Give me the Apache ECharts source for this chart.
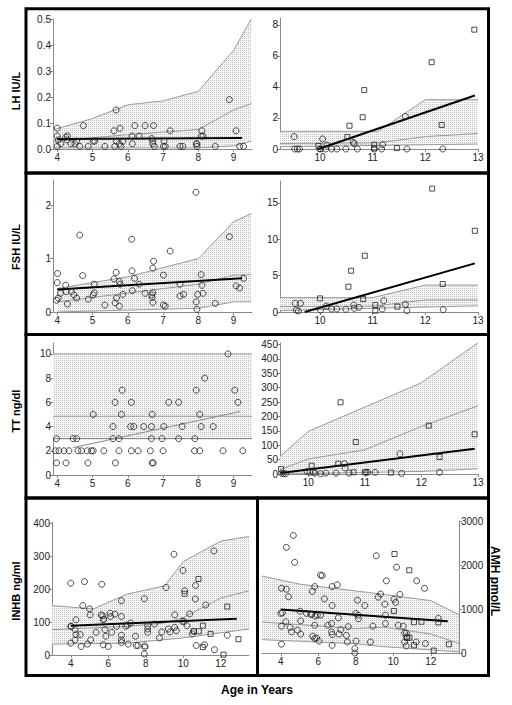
<!DOCTYPE html>
<html><head><meta charset="utf-8">
<script src="https://cdn.jsdelivr.net/npm/echarts@6/dist/echarts.min.js"></script>
<style>html,body{margin:0;padding:0;background:#fff}#c{width:512px;height:705px}</style>
</head><body><div id="c"></div>
<script>
// ---------- DATA ----------
// LH, younger (ages 4-9)
const lhYoungCircles = [[4.0,0.08],[4.0,0.05],[4.03,0.035],[4.0,0.01],[4.1,0.02],[4.24,0.045],[4.29,0.05],[4.27,0.035],[4.39,0.02],[4.5,0.02],[4.55,0.03],[4.64,0.01],[4.74,0.09],[4.88,0.01],[5.02,0.03],[5.06,0.03],[5.35,0.01],[5.61,0.07],[5.67,0.15],[5.63,0.01],[5.68,0.03],[5.78,0.08],[5.76,0.02],[5.8,0.01],[5.86,0.03],[6.12,0.05],[6.13,0.02],[6.2,0.09],[6.32,0.05],[6.49,0.09],[6.68,0.04],[6.73,0.09],[6.71,0.03],[6.71,0.02],[6.75,0.01],[7.03,0.03],[7.01,0.01],[7.06,0.01],[7.2,0.07],[7.48,0.01],[7.56,0.01],[7.94,0.02],[7.96,0.02],[7.96,0.01],[8.08,0.05],[8.1,0.07],[8.13,0.05],[8.48,0.01],[8.88,0.19],[9.07,0.07],[9.17,0.01],[9.28,0.01]];
const lhYoungFit = [[4.0,0.038],[9.24,0.042]];
const lhYoungUpper = [[3.9,0.075],[4.95,0.115],[6.0,0.17],[7.0,0.185],[8.0,0.222],[9.0,0.38],[9.5,0.5]];
const lhYoungMid = [[3.9,0.03],[6.0,0.055],[8.0,0.075],[9.0,0.15],[9.5,0.175]];
const lhYoungLower = [[3.9,0.004],[8.0,0.004],[9.0,0.012],[9.5,0.03]];
// LH, older
const lhOldCircles = [[9.51,0.8],[9.52,0],[9.57,0],[9.61,0],[10.05,0.65],[10.0,0],[10.13,0.25],[10.11,0],[10.22,0],[10.32,0],[10.49,0],[10.63,0.43],[10.65,0.35],[10.71,0],[11.03,0],[11.17,0],[11.19,0.28],[11.62,2.1],[11.65,0],[12.33,0]];
const lhOldSquares = [[9.97,0.2],[10.01,0],[10.52,0.77],[10.56,1.5],[10.81,2.05],[10.84,3.8],[11.03,0.28],[11.03,0.05],[11.46,0.06],[12.12,5.6],[12.31,1.55],[12.93,7.7]];
const lhOldFit = [[9.97,0],[12.94,3.45]];
const lhOldUpper = [[9.24,1.14],[11.1,1.14],[12.0,3.18],[13.0,3.18]];
const lhOldMid = [[9.24,0.35],[11.1,0.4],[12.0,0.8],[13.0,1.0]];
const lhOldLower = [[9.24,0.15],[13.0,0.32]];
// FSH, younger
const fshYoungCircles = [[4.01,0.72],[4.0,0.55],[3.98,0.22],[4.03,0.26],[4.09,0.35],[4.24,0.5],[4.29,0.15],[4.26,0.38],[4.4,0.38],[4.47,0.32],[4.55,0.26],[4.64,1.44],[4.72,0.68],[4.88,0.24],[5.02,0.32],[5.05,0.36],[5.05,0.52],[5.35,0.13],[5.61,0.62],[5.67,0.74],[5.64,0.17],[5.68,0.26],[5.76,0.57],[5.78,0.52],[5.76,0.11],[5.86,0.33],[6.11,1.36],[6.12,0.77],[6.13,0.4],[6.19,0.63],[6.32,0.52],[6.49,0.35],[6.73,0.95],[6.71,0.82],[6.68,0.32],[6.71,0.36],[6.69,0.27],[6.71,0.18],[7.01,0.69],[7.01,0.13],[7.06,0.11],[7.2,1.14],[7.48,0.52],[7.48,0.3],[7.58,0.33],[7.93,2.24],[7.94,0.19],[7.96,0.05],[7.98,0.33],[8.08,0.7],[8.1,0.5],[8.13,0.35],[8.48,0.16],[8.88,1.41],[9.07,0.49],[9.17,0.45],[9.28,0.63]];
const fshYoungFit = [[4.0,0.42],[9.24,0.63]];
const fshYoungUpper = [[4.0,0.44],[6.0,0.66],[8.0,1.0],[9.0,1.69],[9.5,1.84]];
const fshYoungMid = [[4.0,0.19],[8.0,0.52],[9.0,0.69],[9.5,0.7]];
const fshYoungLower = [[4.0,0.0],[8.0,0.07],[9.0,0.19],[9.5,0.19]];
// FSH, older
const fshOldCircles = [[9.53,1.19],[9.55,0.27],[9.63,1.19],[9.59,0.14],[10.01,0.27],[10.12,0.82],[10.22,0.41],[10.32,0.41],[10.49,0.37],[10.64,0.96],[10.65,0.5],[10.74,0.64],[11.18,0.41],[11.21,1.55],[11.62,1.05],[11.65,0.18],[12.34,0.32]];
const fshOldSquares = [[10.0,1.87],[10.54,3.47],[10.59,5.67],[10.82,1.78],[10.85,7.73],[11.05,0.96],[11.05,0.18],[11.47,0.73],[12.13,16.96],[12.33,3.84],[12.94,11.16]];
const fshOldFit = [[9.71,0],[12.94,6.68]];
const fshOldUpper = [[9.24,1.97],[11.0,1.97],[12.0,3.7],[13.0,3.7]];
const fshOldMid = [[9.24,0.75],[11.0,0.8],[12.0,1.65],[13.0,1.65]];
const fshOldLower = [[9.24,0.2],[13.0,0.85]];
// TT, younger
const ttYoungCircles = [[8.84,10],[8.18,8],[5.84,7],[7.94,7],[9.03,7],[5.64,6],[6.1,6],[7.16,6],[7.44,6],[9.12,6],[5.02,5],[5.82,5],[6.69,5],[8.04,5],[5.58,4],[6.08,4],[6.17,4],[6.45,4],[6.67,4],[7.02,4],[7.54,4],[8.08,4],[8.42,4],[3.98,3],[4.45,3],[4.55,3],[5.58,3],[5.75,3],[6.67,3],[6.97,3],[7.44,3],[7.9,3],[3.95,2],[4.05,2],[4.19,2],[4.33,2],[4.59,2],[4.69,2],[4.85,2],[4.97,2],[5.02,2],[5.32,2],[5.75,2],[6.1,2],[6.29,2],[6.64,2],[7.0,2],[7.89,2],[8.04,2],[8.7,2],[9.26,2],[3.98,1],[4.25,1],[4.87,1],[5.65,1],[6.69,1],[6.72,1]];
const ttYoungFit = [[4.45,2.26],[9.19,5.25]];
const ttYoungUpper = [[3.88,10],[9.52,10]];
const ttYoungMid = [[3.88,4.85],[9.52,4.85]];
const ttYoungLower = [[3.88,3],[9.52,3]];
// TT, older
const ttOldCircles = [[9.53,3],[9.56,1],[9.6,1],[9.98,9],[10.03,6],[10.09,6],[10.12,3],[10.22,1],[10.31,3],[10.49,3],[10.64,36],[10.65,21],[10.72,3],[11.02,6],[11.05,6],[11.18,6],[11.62,70],[11.65,2],[12.32,6]];
const ttOldSquares = [[9.52,17],[10.06,29],[10.53,36],[10.57,249],[10.84,111],[10.8,6],[11.0,6],[11.46,5],[12.13,168],[12.32,59],[12.94,138]];
const ttOldFit = [[9.51,3.5],[12.94,88]];
const ttOldUpper = [[9.5,61],[10.0,148],[12.0,317],[13.0,456]];
const ttOldMid = [[9.5,15],[10.0,52],[11.0,84],[12.0,165],[13.0,237]];
const ttOldLower = [[9.5,0],[12.0,9],[13.0,18]];
// INHB
const inhbCircles = [[4.0,218],[4.0,87],[4.03,87],[4.0,36],[4.28,107],[4.23,77],[4.28,62],[4.23,46],[4.5,62],[4.55,26],[4.64,150],[4.73,223],[4.89,33],[5.0,140],[5.03,122],[5.06,46],[5.35,69],[5.65,215],[5.62,122],[5.7,119],[5.73,107],[5.77,109],[5.73,31],[5.82,77],[5.87,57],[6.0,26],[6.09,127],[6.12,117],[6.18,69],[6.35,124],[6.44,87],[6.7,165],[6.7,117],[6.7,60],[6.7,46],[6.7,38],[6.93,87],[7.02,91],[7.06,33],[7.19,97],[7.45,57],[7.49,29],[7.58,29],[7.95,28],[7.95,23],[7.92,3],[7.92,171],[8.1,89],[8.1,69],[8.1,79],[8.46,94],[8.73,52],[8.85,70],[9.08,205],[9.2,79],[9.29,70],[9.5,306],[9.54,122],[9.54,84],[9.63,74],[9.98,257],[10.07,195],[10.04,102],[9.95,102],[10.2,89],[10.34,125],[10.48,64],[10.55,72],[10.65,211],[10.64,170],[10.69,29],[11.19,152],[11.13,31],[11.63,316],[11.66,16],[12.34,60]];
const inhbSquares = [[10.07,186],[10.81,231],[10.56,72],[10.83,72],[11.04,89],[11.04,24],[11.45,64],[12.14,1],[12.34,147],[12.94,48]];
const inhbFit = [[4.0,89],[12.85,110]];
const inhbUpper = [[3.0,150],[5.2,140],[7.0,185],[9.0,210],[10.0,284],[12.0,346],[13.5,360]];
const inhbMid = [[3.0,77],[7.0,87],[9.0,97],[10.0,114],[12.0,173],[13.5,195]];
const inhbLower = [[3.0,33],[7.0,36],[10.0,52],[13.5,79]];
// AMH
const amhCircles = [[4.67,2670],[4.3,2400],[4.74,2060],[4.04,1470],[4.3,1450],[4.41,1280],[4.0,900],[4.09,915],[4.04,610],[4.27,710],[4.5,580],[4.57,480],[4.89,520],[5.03,950],[5.06,730],[5.06,430],[5.37,900],[5.6,880],[5.68,1400],[5.81,1510],[5.65,880],[5.83,840],[5.95,860],[6.12,860],[5.81,630],[5.7,380],[5.81,330],[5.91,340],[6.04,270],[6.12,1770],[6.21,1760],[6.33,1230],[6.51,630],[6.74,1510],[7.01,1550],[6.74,1080],[6.71,670],[6.71,480],[6.74,420],[6.74,175],[7.07,800],[7.2,530],[7.11,430],[7.5,400],[7.55,250],[7.6,600],[8.0,900],[8.09,1200],[8.14,780],[8.12,860],[8.02,270],[7.95,100],[7.95,0],[8.48,1080],[8.78,250],[8.91,610],[9.09,2210],[9.19,1270],[9.32,1340],[9.55,1110],[9.58,860],[9.58,670],[9.63,1640],[10.03,1220],[10.12,1150],[10.17,1950],[10.26,630],[10.35,1330],[10.53,610],[10.6,455],[10.7,455],[10.7,365],[10.6,250],[10.69,160],[11.24,1640],[11.22,250],[11.66,1470],[11.71,215],[12.4,785],[4.04,200]];
const amhSquares = [[10.06,2250],[10.85,1880],[10.03,955],[10.74,340],[10.86,350],[11.1,700],[11.5,710],[11.1,175],[12.15,55],[12.4,695],[12.96,197]];
const amhFit = [[4.0,990],[12.9,720]];
const amhUpper = [[3.0,1750],[5.0,1565],[9.3,1343],[12.0,1190],[13.5,868]];
const amhMid = [[3.0,705],[8.0,555],[9.5,590],[12.0,430],[13.5,220]];
const amhLower = [[3.0,303],[8.0,212],[9.3,150],[13.5,25]];

// tick labels
const youngAgeTicks = [4,5,6,7,8,9];
const oldAgeTicks = [10,11,12,13];
const wideAgeTicks = [4,6,8,10,12];
const lhYoungTicks = [0,0.1,0.2,0.3,0.4,0.5];
const lhOldTicks = [0,2,4,6,8];
const fshYoungTicks = [0,1,2];
const fshOldTicks = [0,5,10,15];
const ttYoungTicks = [0,2,4,6,8,10];
const ttOldTicks = [0,50,100,150,200,250,300,350,400,450];
const inhbTicks = [0,100,200,300,400];
const amhTicks = [0,1000,2000,3000];

// ---------- CHART ----------
const FONT = 'Arial, "Liberation Sans", sans-serif';
const pc = document.createElement('canvas'); pc.width = 2; pc.height = 2;
const pctx = pc.getContext('2d');
pctx.fillStyle = '#f6f6f6'; pctx.fillRect(0,0,2,2);
pctx.fillStyle = '#c2c2c2'; pctx.fillRect(0,0,1,1);
const stipple = {image: pc, repeat: 'repeat'};

const grids = [
  {left:53, top:19, width:199, height:130},
  {left:280, top:18, width:198, height:131},
  {left:53, top:180, width:199, height:132},
  {left:280, top:181, width:198, height:131},
  {left:53, top:343, width:199, height:132},
  {left:280, top:343, width:198, height:131},
  {left:52, top:522, width:197, height:133},
  {left:262, top:521, width:197, height:132}
];

function xAx(g, min, max, ticks) {
  return {type:'value', gridIndex:g, min:min, max:max,
    axisLine:{show:true, onZero:false, lineStyle:{color:'#8a8a8a', width:1}},
    axisTick:{show:true, length:3, customValues:ticks, lineStyle:{color:'#8a8a8a'}},
    axisLabel:{customValues:ticks, fontSize:10, color:'#222', margin:3, fontFamily:FONT},
    splitLine:{show:false}};
}
function yAx(g, min, max, ticks, fmt, pos) {
  return {type:'value', gridIndex:g, min:min, max:max, position:pos || 'left',
    axisLine:{show:true, onZero:false, lineStyle:{color:'#8a8a8a', width:1}},
    axisTick:{show:true, length:3, customValues:ticks, lineStyle:{color:'#8a8a8a'}},
    axisLabel:{customValues:ticks, fontSize:10, color:'#222', margin:2, fontFamily:FONT,
      formatter: fmt || function(v){ return String(v); }},
    splitLine:{show:false}};
}

const xAxes = [
  xAx(0, 3.88, 9.52, youngAgeTicks), xAx(1, 9.24, 13, oldAgeTicks),
  xAx(2, 3.88, 9.52, youngAgeTicks), xAx(3, 9.24, 13, oldAgeTicks),
  xAx(4, 3.88, 9.52, youngAgeTicks), xAx(5, 9.5, 13, oldAgeTicks),
  xAx(6, 3, 13.5, wideAgeTicks), xAx(7, 3, 13.5, wideAgeTicks)
];
const yAxes = [
  yAx(0, 0, 0.5, lhYoungTicks, function(v){ return v.toFixed(1); }),
  yAx(1, 0, 8.45, lhOldTicks),
  yAx(2, 0, 2.47, fshYoungTicks),
  yAx(3, 0, 18, fshOldTicks),
  yAx(4, 0, 10.9, ttYoungTicks),
  yAx(5, 0, 455, ttOldTicks),
  yAx(6, 0, 404, inhbTicks),
  yAx(7, 0, 3000, amhTicks, null, 'right')
];

const series = [];
function band(g, upper, lower) {
  series.push({type:'custom', xAxisIndex:g, yAxisIndex:g, silent:true, z:1, clip:true,
    data:[[upper[0][0], upper[0][1]]],
    renderItem: function(params, api) {
      const pts = upper.map(function(p){ return api.coord(p); })
        .concat(lower.slice().reverse().map(function(p){ return api.coord(p); }));
      return {type:'polygon', shape:{points:pts}, style:{fill:stipple, stroke:null}};
    }});
}
function gline(g, d, color, w) {
  series.push({type:'line', xAxisIndex:g, yAxisIndex:g, data:d, showSymbol:false, symbol:'none',
    silent:true, z:3, lineStyle:{color:color || '#999', width:w || 1}});
}
function pts(g, d, sym, size) {
  series.push({type:'scatter', xAxisIndex:g, yAxisIndex:g, data:d, symbol:sym, symbolSize:size,
    silent:true, z:5, itemStyle:{color:'rgba(255,255,255,0)', borderColor:'#222', borderWidth:1}});
}
function panel(g, upper, mid, lower, fit, circles, squares, fitColor, fitWidth, lowerColor) {
  band(g, upper, lower);
  gline(g, upper); gline(g, mid); gline(g, lower, lowerColor);
  if (circles) pts(g, circles, 'circle', 6);
  if (squares) pts(g, squares, 'rect', 5);
  gline(g, fit, fitColor || '#000', fitWidth || 2);
}
panel(0, lhYoungUpper, lhYoungMid, lhYoungLower, lhYoungFit, lhYoungCircles, null);
panel(1, lhOldUpper, lhOldMid, lhOldLower, lhOldFit, lhOldCircles, lhOldSquares);
panel(2, fshYoungUpper, fshYoungMid, fshYoungLower, fshYoungFit, fshYoungCircles, null);
panel(3, fshOldUpper, fshOldMid, fshOldLower, fshOldFit, fshOldCircles, fshOldSquares);
panel(4, ttYoungUpper, ttYoungMid, ttYoungLower, ttYoungFit, ttYoungCircles, null, '#888', 1, '#777');
panel(5, ttOldUpper, ttOldMid, ttOldLower, ttOldFit, ttOldCircles, ttOldSquares);
panel(6, inhbUpper, inhbMid, inhbLower, inhbFit, inhbCircles, inhbSquares);
panel(7, amhUpper, amhMid, amhLower, amhFit, amhCircles, amhSquares);

function box(x1, y1, x2, y2) {
  return {type:'rect', shape:{x:x1, y:y1, width:x2-x1, height:y2-y1}, z:100,
    style:{fill:null, stroke:'#000', lineWidth:3}};
}
function label(text, x, y, rot, size) {
  return {type:'text', x:x, y:y, rotation:rot, z:100,
    style:{text:text, font:'bold ' + (size||11) + 'px ' + FONT, fill:'#000', textAlign:'center', textVerticalAlign:'middle'}};
}
const graphics = [
  box(26, 8.7, 488.5, 173), box(26, 173, 488.5, 334.5), box(26, 334.5, 488.5, 498),
  box(26, 498, 257.5, 675.5), box(257.5, 498, 488.5, 675.5),
  label('LH IU/L', 15.5, 91, Math.PI/2),
  label('FSH IU/L', 15.5, 247, Math.PI/2),
  label('TT ng/dl', 15.5, 411, Math.PI/2),
  label('INHB ng/ml', 15.5, 591, Math.PI/2),
  label('AMH pmol/L', 495, 581, -Math.PI/2, 12),
  label('Age in Years', 257, 690, 0, 12)
];

const chart = echarts.init(document.getElementById('c'), null, {renderer:'svg', width:512, height:705});
chart.setOption({
  animation:false, backgroundColor:'#fff',
  grid:grids, xAxis:xAxes, yAxis:yAxes, series:series, graphic:graphics
});
</script></body></html>
